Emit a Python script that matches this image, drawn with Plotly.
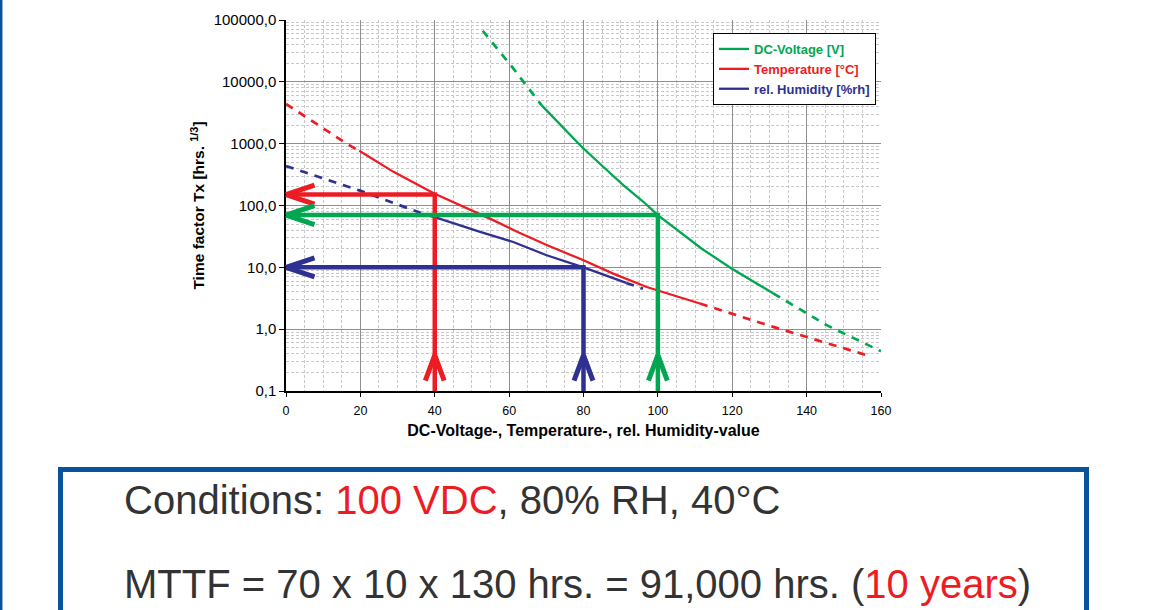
import numpy as np
import plotly.graph_objects as go

# ---------------- data ----------------
# DC-Voltage [V]
volt_x_early = [52.9, 60.8, 68.7]
volt_y_early = [67000, 17400, 4200]
volt_x = [68.7, 74.6, 79.5, 85.3, 90.7, 96.1, 100, 111.8, 119.8, 131]
volt_y = [4200, 1770, 890, 423, 214, 115, 70, 20, 9.6, 3.8]
volt_x_late = [131, 145.4, 160]
volt_y_late = [3.8, 1.16, 0.44]

# Temperature [°C]
temp_x_early = [0, 16.3, 19.7]
temp_y_early = [4400, 1000, 767]
temp_x = [19.7, 28.9, 40, 46.8, 53, 55.7, 62, 70.1, 80, 88, 97, 102.4, 111.3]
temp_y = [767, 350, 155, 101, 70, 58, 38, 23, 13, 7.9, 4.8, 3.8, 2.6]
temp_x_late = [111.3, 131, 156.1]
temp_y_late = [2.6, 1.09, 0.38]

# rel. Humidity [%rh]
hum_x_early = [0, 19.9, 37.8]
hum_y_early = [435, 174, 70]
hum_x = [37.8, 40, 52.2, 57.5, 61.1, 70.1, 80, 91.5]
hum_y = [70, 65, 37.5, 30, 25.7, 15.7, 10, 5.6]
hum_x_late = [91.5, 96]
hum_y_late = [5.6, 4.5]

# reading arrows: operating point -> time factor
arrow_names = ["Temperature", "rel. Humidity", "DC-Voltage"]
arrow_x = [40, 80, 100]
arrow_y = [150, 10, 70]
arrow_tip_y = 0.38  # level of the upward arrow heads

x_ticks = [0, 20, 40, 60, 80, 100, 120, 140, 160]

GREEN = "#00a650"
RED = "#ed1c24"
BLUE = "#2e3192"
TEXT = "#333333"
FRAME = "#0a539c"
arrow_colors = [RED, BLUE, GREEN]
DASH = "8px,7px"

fig = go.Figure()

def curve(x, y, color, dash, name=None, legend=False, width=2.3):
    fig.add_trace(go.Scatter(
        x=x, y=y, mode="lines", name=name, showlegend=legend,
        line=dict(color=color, width=width, dash=dash), hoverinfo="skip"))

curve(volt_x_early, volt_y_early, GREEN, DASH, width=2.7)
curve(volt_x, volt_y, GREEN, "solid",
      f"<span style='color:{GREEN}'>DC-Voltage [V]</span>", True)
curve(volt_x_late, volt_y_late, GREEN, DASH, width=2.7)

curve(temp_x_early, temp_y_early, RED, DASH, width=2.7)
curve(temp_x, temp_y, RED, "solid",
      f"<span style='color:{RED}'>Temperature [°C]</span>", True)
curve(temp_x_late, temp_y_late, RED, DASH, width=2.7)

curve(hum_x_early, hum_y_early, BLUE, DASH, width=2.7)
curve(hum_x, hum_y, BLUE, "solid",
      f"<span style='color:{BLUE}'>rel. Humidity [%rh]</span>", True)
curve(hum_x_late, hum_y_late, BLUE, DASH, width=2.7)

# arrow shafts (horizontal to the y axis, vertical from the x axis)
for ax_, ay_, c in zip(arrow_x, arrow_y, arrow_colors):
    fig.add_trace(go.Scatter(
        x=[0, ax_, ax_], y=[ay_, ay_, 0.1], mode="lines", showlegend=False,
        line=dict(color=c, width=4.5), hoverinfo="skip"))

annotations = []
# arrow heads drawn as two short arms (pixel offsets) from each tip
for ax_, ay_, c in zip(arrow_x, arrow_y, arrow_colors):
    for dy in (-10, 10):
        annotations.append(dict(x=0, y=np.log10(ay_), xref="x", yref="y",
                                ax=30, ay=dy, text="", showarrow=True,
                                arrowhead=0, arrowwidth=5, arrowcolor=c))
    for dx in (-10, 10):
        annotations.append(dict(x=ax_, y=np.log10(arrow_tip_y), xref="x", yref="y",
                                ax=dx, ay=27, text="", showarrow=True,
                                arrowhead=0, arrowwidth=5, arrowcolor=c))

# conditions box text
FONT = "Liberation Sans, Arial, sans-serif"
annotations.append(dict(
    xref="paper", yref="paper", x=(121.5 - 286) / 595, y=(391 - 500) / 371,
    xanchor="left", yanchor="middle", showarrow=False,
    text=f"Conditions: <span style='color:{RED}'>100 VDC</span>, 80% RH, 40°C",
    font=dict(family=FONT, size=40, color=TEXT)))
annotations.append(dict(
    xref="paper", yref="paper", x=(121.5 - 286) / 595, y=(391 - 584) / 371,
    xanchor="left", yanchor="middle", showarrow=False,
    text=f"MTTF = 70 x 10 x 130 hrs. = 91,000 hrs. (<span style='color:{RED}'>10 years</span>)",
    font=dict(family=FONT, size=40, color=TEXT)))

shapes = [
    # conditions frame
    dict(type="rect", xref="paper", yref="paper",
         x0=(60.5 - 286) / 595, x1=(1086.5 - 286) / 595,
         y0=(391 - 640) / 371, y1=(391 - 469.5) / 371,
         line=dict(color=FRAME, width=5), fillcolor="rgba(0,0,0,0)"),
    # slide edge line on the left
    dict(type="line", xref="paper", yref="paper",
         x0=(1.2 - 286) / 595, x1=(1.2 - 286) / 595, y0=(391 - 615) / 371, y1=(391 + 25) / 371,
         line=dict(color=FRAME, width=2.5)),
]

fig.update_layout(
    width=1152, height=610,
    margin=dict(l=286, r=271, t=20, b=219, autoexpand=False),
    paper_bgcolor="white", plot_bgcolor="white",
    separators=",.",
    font=dict(family=FONT, color="black"),
    showlegend=True,
    legend=dict(x=(713 - 286) / 595, y=(391 - 33) / 371, xanchor="left", yanchor="top",
                bgcolor="white", bordercolor="black", borderwidth=1,
                font=dict(size=13, weight="bold"), itemwidth=30,
                tracegroupgap=0),
    annotations=annotations,
    shapes=shapes,
)

MINOR_GRID = "#c8c8c8"
fig.update_xaxes(
    range=[0, 160], tickvals=x_ticks, ticks="outside", ticklen=4, tickcolor="black",
    ticklabelstandoff=3,
    showline=True, linecolor="black", linewidth=1.5,
    showgrid=True, gridcolor="#8f8f8f", gridwidth=1,
    tickfont=dict(size=12.5, color="black"),
    minor=dict(dtick=5, showgrid=True, gridcolor=MINOR_GRID, griddash="3px,2px", gridwidth=1),
    title=dict(text="<b>DC-Voltage-, Temperature-, rel. Humidity-value</b>",
               font=dict(size=16, color="black"), standoff=8),
    zeroline=False,
)
fig.update_yaxes(
    type="log", range=[-1, 5], dtick=1, tickformat=".1f",
    ticks="outside", ticklen=5, tickcolor="black",
    showline=True, linecolor="black", linewidth=1.5,
    showgrid=True, gridcolor="#8f8f8f", gridwidth=1,
    tickfont=dict(size=15, color="black"),
    minor=dict(dtick="D1", showgrid=True, gridcolor=MINOR_GRID, griddash="3px,2px", gridwidth=1),
    title=dict(text="<b>Time factor Tx [hrs. <sup>1/3</sup>]</b>",
               font=dict(size=15.5, color="black"), standoff=5),
    zeroline=False,
)

# remove the default page margin so the figure sits at the window's corner
fig.write_html("out.html",
               config={"displayModeBar": False},
               post_script="document.body.style.margin='0';document.body.style.overflow='hidden';")
